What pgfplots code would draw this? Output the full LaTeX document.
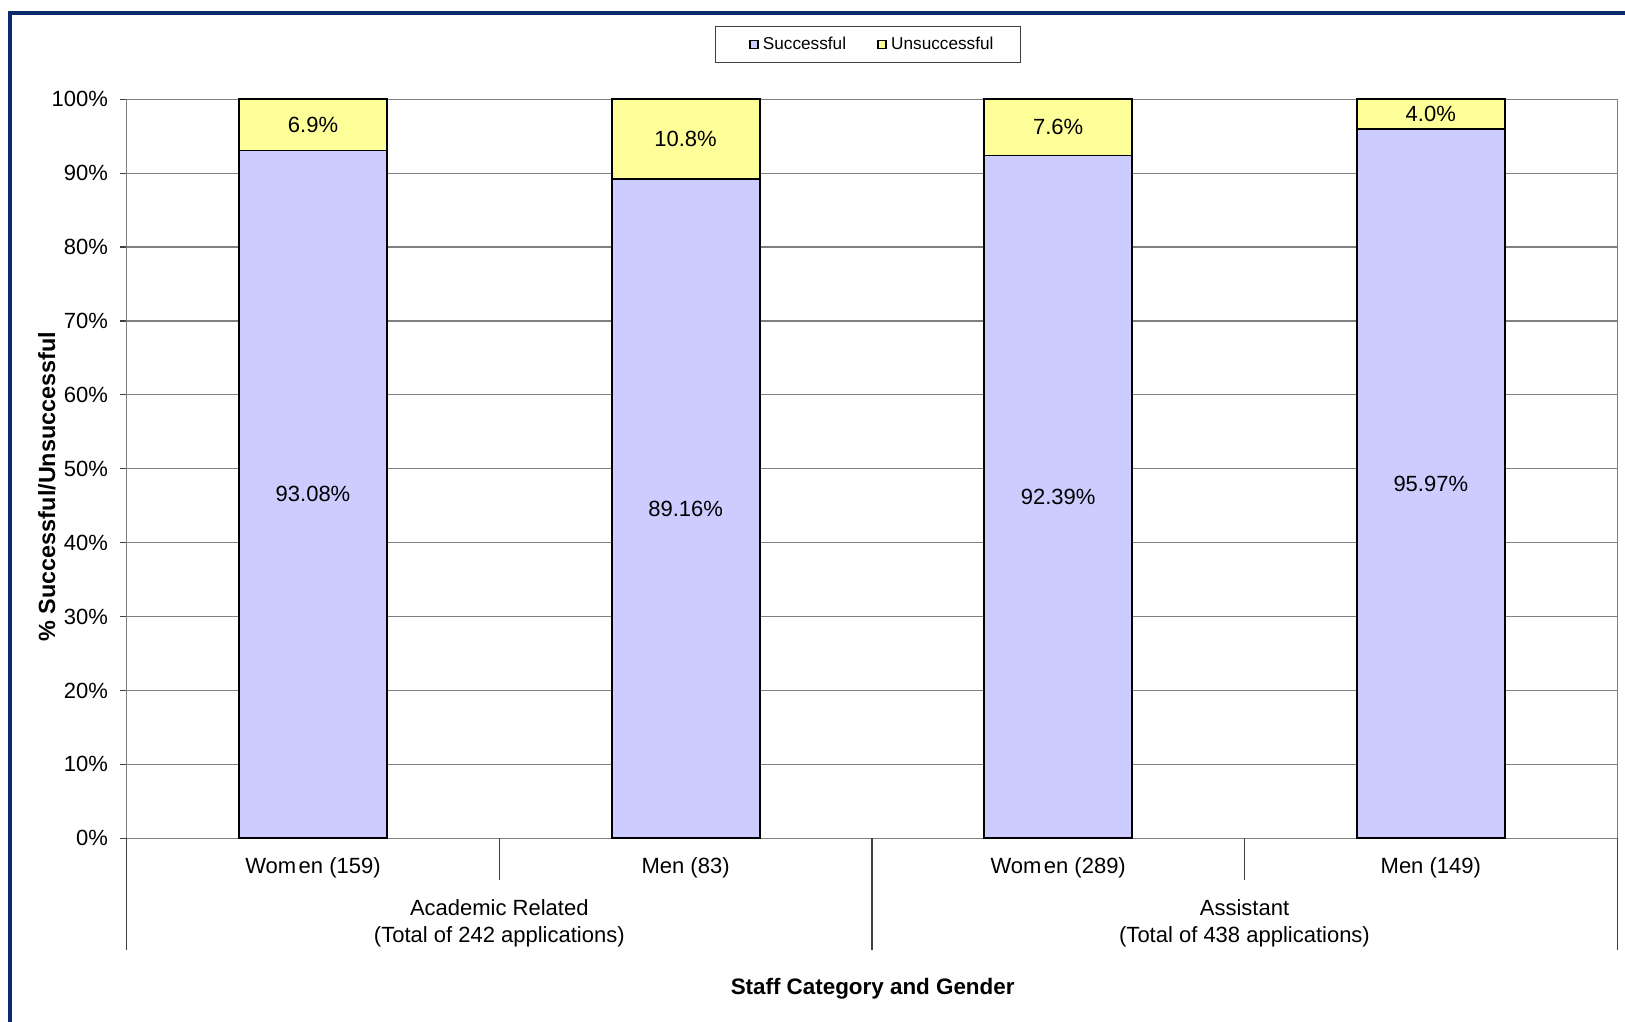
\documentclass[border=0pt]{standalone}
\usepackage{pgfplots}
\pgfplotsset{compat=1.18}
\usepackage{fontspec}
\setmainfont{Liberation Sans}
\definecolor{succ}{HTML}{CCCCFF}
\definecolor{unsucc}{HTML}{FFFF99}
\definecolor{framecol}{HTML}{0C2A6E}
\definecolor{gridgray}{HTML}{808080}
\definecolor{sepgray}{HTML}{404040}
\begin{document}
\begin{tikzpicture}
\fontsize{11}{13}\selectfont
\path[use as bounding box] (-63.35pt,-91.35pt) rectangle (749.15pt,419.15pt);
\draw[framecol, line width=1.7pt] (-58.35pt,-100pt) -- (-58.35pt,412.65pt) -- (760pt,412.65pt);
\begin{axis}[
  at={(0pt,0pt)}, anchor=south west,
  scale only axis, width=745.2pt, height=369.5pt,
  ybar stacked, bar width=74pt,
  xmin=-0.5, xmax=3.5, ymin=0, ymax=100,
  clip=false,
  /pgf/number format/assume math mode=true,
  axis line style={draw=gridgray, line width=0.6pt},
  tick align=outside,
  major tick length=3.5pt,
  ytick pos=left,
  xtick={0,1,2,3},
  xticklabels={Wom\kern1.2pt en (159), Men (83), Wom\kern1.2pt en (289), Men (149)},
  xtick style={draw=none},
  xticklabel style={anchor=base, inner sep=0pt, yshift=-14.25pt, font=\fontsize{11}{13}\selectfont},
  ytick={0,10,...,100},
  yticklabels={0\%,10\%,20\%,30\%,40\%,50\%,60\%,70\%,80\%,90\%,100\%},
  ytick style={draw=sepgray, line width=0.6pt},
  yticklabel style={xshift=-2pt, font=\fontsize{11}{13}\selectfont},
  ymajorgrids,
  major grid style={draw=gridgray, line width=0.6pt},
  ylabel={\% Successful/Unsuccessful},
  ylabel style={at={(axis description cs:-0.0535,0.476)}, anchor=center, font=\bfseries\fontsize{11.7}{13}\selectfont},
  xlabel={Staff Category and Gender},
  xlabel style={at={(axis description cs:0.5005,-0.2107)}, anchor=base, inner sep=0pt, font=\bfseries\fontsize{11.2}{13}\selectfont},
  legend style={at={(0.4974,1.0742)}, anchor=center, legend columns=2,
    draw=black!75, line width=0.5pt, inner xsep=13.5pt, inner ysep=3pt,
    font=\fontsize{8.6}{10}\selectfont,
    nodes={inner xsep=0pt},
    /tikz/every odd column/.append style={column sep=2.2pt},
    /tikz/every even column/.append style={column sep=12.4pt}},
  legend image code/.code={\path[draw=none, fill=none] (-3.6pt,-0.1pt) rectangle (4pt,0.1pt);\draw[#1, draw=black, line width=0.7pt] (0pt,-2pt) rectangle (4pt,2pt);},
  point meta=rawy,
  nodes near coords,
  every node near coord/.append style={anchor=center, font=\fontsize{11}{13}\selectfont, text=black},
]
\addplot+[fill=succ, draw=black, line width=0.9pt,
  nodes near coords={\pgfmathprintnumber[fixed,fixed zerofill,precision=2]{\pgfplotspointmeta}\%}]
  coordinates {(0,93.08) (1,89.16) (2,92.39) (3,95.97)};
\addlegendentry{Successful}
\addplot+[fill=unsucc, draw=black, line width=0.9pt,
  nodes near coords={\pgfmathprintnumber[fixed,fixed zerofill,precision=1]{\pgfplotspointmeta}\%}]
  coordinates {(0,6.92) (1,10.84) (2,7.61) (3,4.03)};
\addlegendentry{Unsuccessful}
% category separators
\draw[sepgray, line width=0.6pt] (axis cs:-0.5,0) -- ++(0pt,-55.85pt);
\draw[sepgray, line width=0.6pt] (axis cs:0.5,0) -- ++(0pt,-20.85pt);
\draw[sepgray, line width=0.6pt] (axis cs:1.5,0) -- ++(0pt,-55.85pt);
\draw[sepgray, line width=0.6pt] (axis cs:2.5,0) -- ++(0pt,-20.85pt);
\draw[sepgray, line width=0.6pt] (axis cs:3.5,0) -- ++(0pt,-55.85pt);
% group labels
\node[anchor=base, inner sep=0pt] at ([yshift=-38.7pt]axis cs:0.5,0) {Academic Related};
\node[anchor=base, inner sep=0pt] at ([yshift=-51.85pt]axis cs:0.5,0) {(Total of 242 applications)};
\node[anchor=base, inner sep=0pt] at ([yshift=-38.7pt]axis cs:2.5,0) {Assistant};
\node[anchor=base, inner sep=0pt] at ([yshift=-51.85pt]axis cs:2.5,0) {(Total of 438 applications)};
\end{axis}
\end{tikzpicture}
\end{document}
